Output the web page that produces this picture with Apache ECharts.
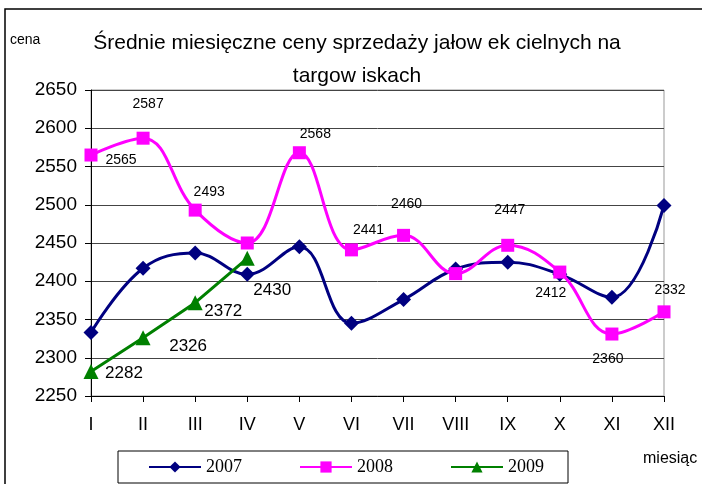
<!DOCTYPE html>
<html>
<head>
<meta charset="utf-8">
<script src="https://cdn.jsdelivr.net/npm/echarts@6/dist/echarts.min.js"></script>
<style>
  html, body { margin: 0; padding: 0; background: #fff; }
  #chart { width: 702px; height: 484px; }
</style>
</head>
<body>
<div id="chart"></div>
<script>
const months = ['I', 'II', 'III', 'IV', 'V', 'VI', 'VII', 'VIII', 'IX', 'X', 'XI', 'XII'];
const prices2007 = [2333, 2417, 2437, 2409, 2445, 2345, 2376, 2416, 2425, 2409, 2379, 2499];
const prices2008 = [2565, 2587, 2493, 2450, 2568, 2441, 2460, 2410, 2447, 2412, 2331, 2360];
const prices2009 = [2282, 2326, 2372, 2430];
// etykiety tak jak na wykresie (XI i XII zamienione w oryginale)
const labels2008 = ['2565', '2587', '2493', '', '2568', '2441', '2460', '', '2447', '2412', '2360', '2332'];
const labels2009 = ['2282', '2326', '2372', '2430'];
const yTicks = { min: 2250, max: 2650, step: 50 };

// przesuniecia etykiet [dx, dy] wzgledem punktu
const offsets2008 = [[30, 5], [5, -34], [14, -18], null, [16, -19], [17, -20], [3, -31], null, [2, -35], [-9, 21], [-4, 25], [6, -22]];
const offsets2009 = [[33, 2], [45, 8], [28, 9], [25, 32]];

const font = 'Liberation Sans, Arial, sans-serif';

function withLabels(values, labels, offsets, size) {
  return values.map((v, i) => ({
    value: v,
    label: {
      show: !!labels[i],
      formatter: labels[i],
      position: 'inside',
      offset: offsets[i] || [0, 0],
      align: 'center',
      verticalAlign: 'middle',
      color: '#000',
      fontFamily: font,
      fontSize: size,
    },
  }));
}

const chart = echarts.init(document.getElementById('chart'));

const option = {
  backgroundColor: '#fff',
  animation: false,
  grid: {
    left: 91,
    right: 38,
    top: 90,
    bottom: 88,
    show: true,
    borderColor: '#999',
    borderWidth: 1,
  },
  graphic: [
    {
      type: 'polyline',
      shape: { points: [[5, 484], [5, 9], [702, 9]] },
      style: { fill: 'none', stroke: '#000', lineWidth: 1.5 },
      silent: true,
    },
    {
      type: 'text',
      x: 357, y: 43,
      style: {
        text: 'Średnie miesięczne ceny sprzedaży jałow ek cielnych na',
        font: '21px ' + font, fill: '#000', align: 'center', verticalAlign: 'middle',
      },
    },
    {
      type: 'text',
      x: 357, y: 76,
      style: {
        text: 'targow iskach',
        font: '21px ' + font, fill: '#000', align: 'center', verticalAlign: 'middle',
      },
    },
    {
      type: 'text',
      x: 10, y: 40,
      style: { text: 'cena', font: '14px ' + font, fill: '#000', verticalAlign: 'middle' },
    },
    {
      type: 'text',
      x: 643, y: 459,
      style: { text: 'miesiąc', font: '16px ' + font, fill: '#000', verticalAlign: 'middle' },
    },
  ],
  legend: {
    left: 118,
    top: 451,
    itemWidth: 52,
    itemHeight: 14,
    itemGap: 57,
    padding: [7, 24, 7, 30],
    borderColor: '#000',
    borderWidth: 1,
    textStyle: { fontFamily: 'Liberation Serif, Times New Roman, serif', fontSize: 18, color: '#000' },
    data: ['2007', '2008', '2009'],
  },
  xAxis: {
    type: 'category',
    boundaryGap: false,
    data: months,
    axisLine: { lineStyle: { color: '#000', width: 1 } },
    axisTick: { show: true, length: 6, lineStyle: { color: '#000' } },
    axisLabel: { color: '#000', fontFamily: font, fontSize: 18, margin: 20 },
    splitLine: { show: false },
  },
  yAxis: {
    type: 'value',
    min: yTicks.min,
    max: yTicks.max,
    interval: yTicks.step,
    axisLine: { show: true, lineStyle: { color: '#000', width: 1 } },
    axisTick: { show: true, length: 6, lineStyle: { color: '#000' } },
    axisLabel: { color: '#000', fontFamily: font, fontSize: 19, margin: 14, formatter: (v) => String(v) },
    splitLine: { show: true, lineStyle: { color: '#444', width: 1 } },
  },
  series: [
    {
      name: '2007',
      type: 'line',
      smooth: 0.4,
      data: prices2007,
      symbol: 'diamond',
      symbolSize: 15,
      color: '#000080',
      lineStyle: { width: 3, color: '#000080' },
      itemStyle: { color: '#000080' },
    },
    {
      name: '2008',
      type: 'line',
      smooth: 0.4,
      data: withLabels(prices2008, labels2008, offsets2008, 14),
      symbol: 'rect',
      symbolSize: 13,
      color: '#ff00ff',
      lineStyle: { width: 3, color: '#ff00ff' },
      itemStyle: { color: '#ff00ff' },
    },
    {
      name: '2009',
      type: 'line',
      smooth: false,
      data: withLabels(prices2009, labels2009, offsets2009, 17),
      symbol: 'triangle',
      symbolSize: 15,
      color: '#008000',
      lineStyle: { width: 3, color: '#008000' },
      itemStyle: { color: '#008000' },
    },
  ],
};

chart.setOption(option);
</script>
</body>
</html>
